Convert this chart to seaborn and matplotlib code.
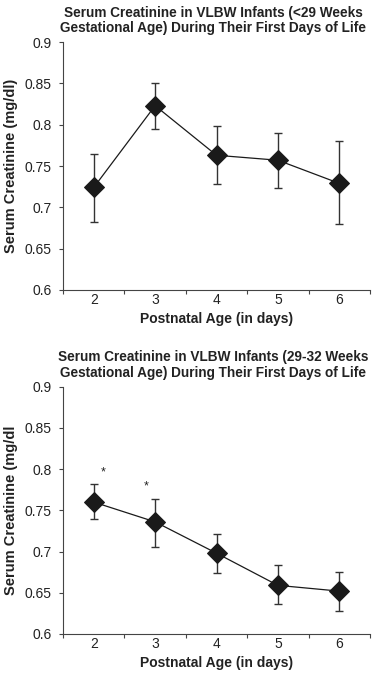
import numpy as np
import pandas as pd
import seaborn as sns
import matplotlib.pyplot as plt
from matplotlib.ticker import FixedLocator, NullFormatter

sns.set_theme(style="white")
plt.rcParams['font.family'] = ['Liberation Sans', 'DejaVu Sans']

days = ["2", "3", "4", "5", "6"]

# <29 weeks
top_mean = [0.724, 0.823, 0.763, 0.757, 0.729]
top_low = [0.682, 0.795, 0.728, 0.723, 0.680]
top_high = [0.764, 0.851, 0.798, 0.790, 0.780]

# 29-32 weeks
bot_mean = [0.760, 0.736, 0.698, 0.659, 0.652]
bot_low = [0.740, 0.706, 0.674, 0.636, 0.628]
bot_high = [0.782, 0.764, 0.721, 0.684, 0.675]

star_x = [0.16, 0.85]
star_y = [0.796, 0.779]

titles = ["Serum Creatinine in VLBW Infants (<29 Weeks\nGestational Age) During Their First Days of Life",
          "Serum Creatinine in VLBW Infants (29-32 Weeks\nGestational Age) During Their First Days of Life"]
ylabels = ["Serum Creatinine (mg/dl)", "Serum Creatinine (mg/dl"]
yticks = [0.6, 0.65, 0.7, 0.75, 0.8, 0.85, 0.9]
ytick_labels = ["0.6", "0.65", "0.7", "0.75", "0.8", "0.85", "0.9"]

fig = plt.figure(figsize=(3.76, 6.78), dpi=100)
ax1 = fig.add_axes([0.1676, 0.5723, 0.8164, 0.3657])
ax2 = fig.add_axes([0.1676, 0.0649, 0.8164, 0.3648])

dark = "#1a1a1a"
for ax, mean, low, high, title, ylab in [
    (ax1, top_mean, top_low, top_high, titles[0], ylabels[0]),
    (ax2, bot_mean, bot_low, bot_high, titles[1], ylabels[1]),
]:
    df = pd.DataFrame({"pos": np.arange(len(days)), "value": mean})
    mean = np.array(mean)
    yerr = [mean - np.array(low), np.array(high) - mean]
    ax.errorbar(df["pos"], df["value"], yerr=yerr, fmt="none", ecolor="#333333",
                elinewidth=1.0, capsize=2.8, capthick=1.0, zorder=1)
    sns.lineplot(data=df, x="pos", y="value", ax=ax, color=dark, linewidth=0.9,
                 marker="D", markersize=10.5, markeredgecolor=dark, markerfacecolor=dark, zorder=3)
    ax.set_xlim(-0.5, len(days) - 0.5)
    ax.set_ylim(0.6, 0.9)
    ax.set_yticks(yticks)
    ax.set_yticklabels(ytick_labels, fontsize=10, color="#222222")
    ax.xaxis.set_major_locator(FixedLocator(np.arange(len(days) + 1) - 0.5))
    ax.xaxis.set_major_formatter(NullFormatter())
    ax.xaxis.set_minor_locator(FixedLocator(np.arange(len(days))))
    ax.set_xticklabels(days, minor=True, fontsize=10, color="#222222")
    ax.tick_params(axis="x", which="major", direction="out", length=3, width=0.8, color="#444444", bottom=True)
    ax.tick_params(axis="x", which="minor", length=0, pad=2, bottom=True)
    ax.tick_params(axis="y", direction="out", length=3, width=0.8, color="#444444", left=True, pad=5)
    for s in ["top", "right"]:
        ax.spines[s].set_visible(False)
    for s in ["left", "bottom"]:
        ax.spines[s].set_color("#444444")
        ax.spines[s].set_linewidth(0.8)
    ax.set_xlabel("Postnatal Age (in days)", fontsize=10, fontweight="bold", color="#222222", labelpad=4)
    ax.set_ylabel(ylab, fontsize=10.5, fontweight="bold", color="#222222", labelpad=5)
    ax.set_title(title, fontsize=9.8, fontweight="bold", color="#222222", pad=7, x=0.49,
                 linespacing=1.15)

for sx, sy in zip(star_x, star_y):
    ax2.text(sx, sy, "*", ha="center", va="center", fontsize=9, color="#222222")

fig.savefig("out.png", dpi=100)
